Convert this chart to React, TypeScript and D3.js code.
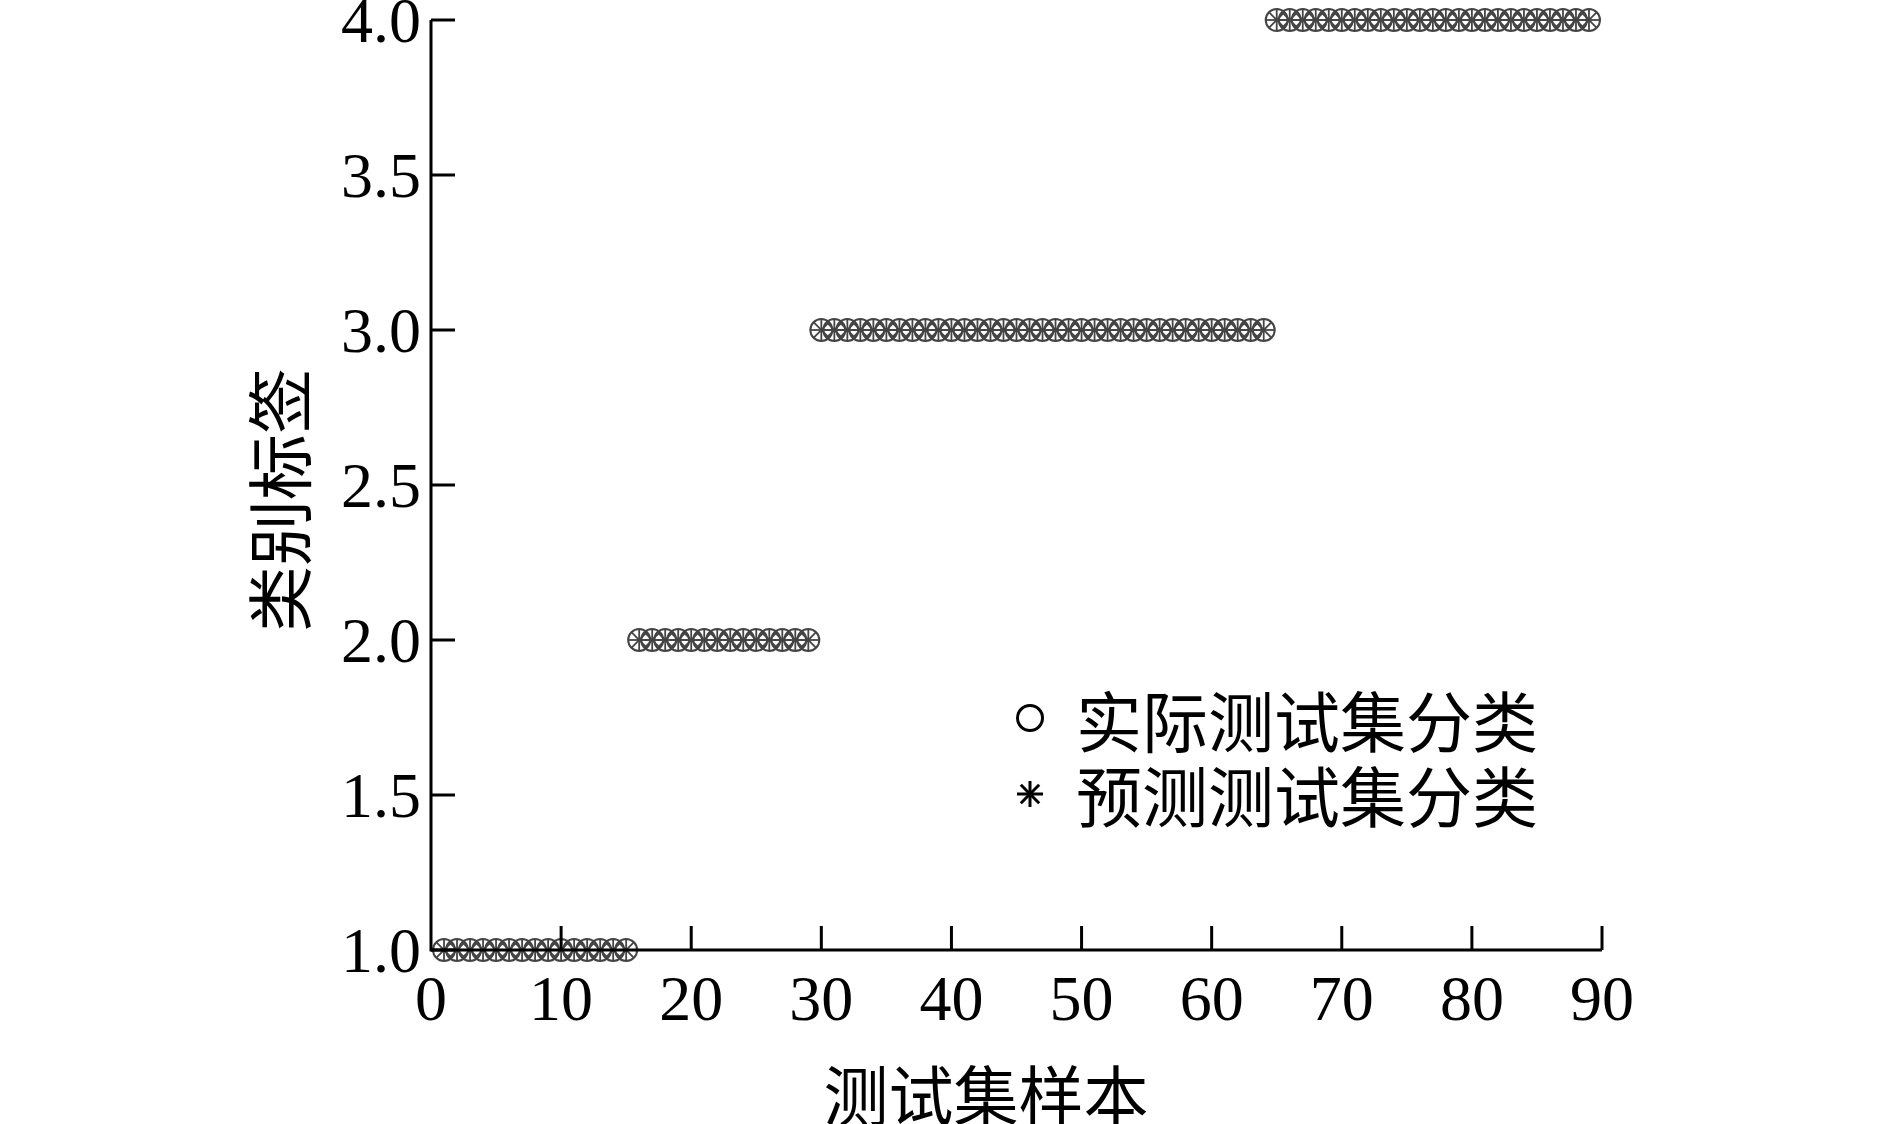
import React from "react";
import * as d3 from "d3";

const W = 1889;
const H = 1124;

// class segments: [first sample, last sample, class label]
const classSegments: [number, number, number][] = [
  [1, 15, 1],
  [16, 29, 2],
  [30, 64, 3],
  [65, 89, 4],
];
const actualLabels: number[] = [];
classSegments.forEach(([a, b, c]) => {
  for (let i = a; i <= b; i++) actualLabels.push(c);
});
const predictedLabels: number[] = actualLabels.slice();

const xTicks = [0, 10, 20, 30, 40, 50, 60, 70, 80, 90];
const yTicks = [1.0, 1.5, 2.0, 2.5, 3.0, 3.5, 4.0];
const legendLabels = ["实际测试集分类", "预测测试集分类"];
const xTitle = "测试集样本";
const yTitle = "类别标签";

const serif = "'Liberation Serif', 'Times New Roman', serif";
const cjk = "'Noto Sans CJK SC', 'Noto Sans', sans-serif";

function Asterisk({ cx, cy, r, sw, color }: { cx: number; cy: number; r: number; sw: number; color: string }) {
  const lines = [0, 45, 90, 135].map((deg) => {
    const a = (deg * Math.PI) / 180;
    return (
      <line
        key={deg}
        x1={cx - r * Math.cos(a)}
        y1={cy - r * Math.sin(a)}
        x2={cx + r * Math.cos(a)}
        y2={cy + r * Math.sin(a)}
        stroke={color}
        strokeWidth={sw}
      />
    );
  });
  return <g>{lines}</g>;
}

export default function App() {
  const x = d3.scaleLinear().domain([0, 90]).range([431, 1602]);
  const y = d3.scaleLinear().domain([1, 4]).range([950, 20]);
  const tickLen = 24;
  const fs = 64;

  return (
    <svg width={W} height={H} style={{ position: "absolute", left: 0, top: 0, background: "#fff" }}>
      {/* data markers */}
      <g>
        {actualLabels.map((v, i) => (
          <circle key={"c" + i} cx={x(i + 1)} cy={y(v)} r={11} fill="none" stroke="#444" strokeWidth={2} />
        ))}
        {predictedLabels.map((v, i) => (
          <Asterisk key={"s" + i} cx={x(i + 1)} cy={y(v)} r={11} sw={1.8} color="#444" />
        ))}
      </g>

      {/* axes */}
      <line x1={x(0)} y1={y(1)} x2={x(90)} y2={y(1)} stroke="#000" strokeWidth={3} />
      <line x1={x(0)} y1={y(1) + 1.5} x2={x(0)} y2={y(4)} stroke="#000" strokeWidth={3} />
      {xTicks.map((t) => (
        <g key={"xt" + t}>
          {t > 0 && (
            <line x1={x(t)} y1={y(1)} x2={x(t)} y2={y(1) - tickLen} stroke="#000" strokeWidth={3} />
          )}
          <text x={x(t)} y={1020} textAnchor="middle" fontFamily={serif} fontSize={fs} fill="#000">
            {t}
          </text>
        </g>
      ))}
      {yTicks.map((t) => (
        <g key={"yt" + t}>
          <line x1={x(0)} y1={y(t)} x2={x(0) + tickLen} y2={y(t)} stroke="#000" strokeWidth={3} />
          <text
            x={421}
            y={y(t)}
            dy="0.35em"
            textAnchor="end"
            fontFamily={serif}
            fontSize={fs}
            fill="#000"
          >
            {t.toFixed(1)}
          </text>
        </g>
      ))}

      {/* axis titles */}
      <text x={986} y={1092} dominantBaseline="central" textAnchor="middle" fontFamily={cjk} fontSize={65} fill="#000">
        {xTitle}
      </text>
      <text
        transform={`translate(276,500) rotate(-90)`}
        dominantBaseline="central"
        textAnchor="middle"
        fontFamily={cjk}
        fontSize={66}
        fill="#000"
      >
        {yTitle}
      </text>

      {/* legend */}
      <circle cx={1030} cy={718} r={12.5} fill="none" stroke="#000" strokeWidth={3} />
      <Asterisk cx={1030} cy={794} r={13} sw={3} color="#000" />
      <text x={1076} y={718} dominantBaseline="central" fontFamily={cjk} fontSize={66} fill="#000">
        {legendLabels[0]}
      </text>
      <text x={1076} y={793} dominantBaseline="central" fontFamily={cjk} fontSize={66} fill="#000">
        {legendLabels[1]}
      </text>
    </svg>
  );
}
